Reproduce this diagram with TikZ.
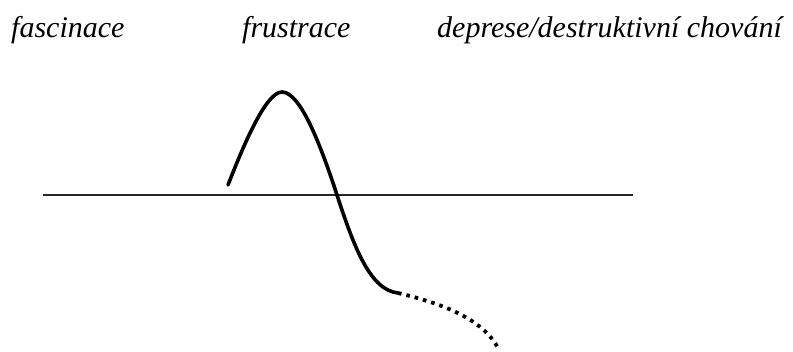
\documentclass[tikz,border=0pt]{standalone}
\usepackage{fontspec}
\setmainfont{Liberation Serif}
\tikzset{
  lbl/.style={anchor=base west, inner sep=0pt, font=\fontsize{30}{32}\selectfont\itshape},
  axis/.style={line width=1.8pt, color=black!85},
  wave/.style={line width=3.6pt, line cap=round},
  tail/.style={line width=3.8pt, dash pattern=on 3.6pt off 5pt}
}
\begin{document}
\begin{tikzpicture}[x=1pt,y=-1pt]
\useasboundingbox (0,0) rectangle (793,351);
\node[lbl] (t1) at (11,37) {fascinace};
\node[lbl] (t2) at (242,37) {frustrace};
\node[lbl] (t3) at (437,37) {deprese/destruktivní chování};
\coordinate (l1) at (43,195);
\coordinate (l2) at (633,195);
\draw[axis] (l1) -- (l2);
\coordinate (s) at (228,185);
\coordinate (p) at (282,92);
\coordinate (c) at (337,195);
\coordinate (e) at (398,293);
\coordinate (f) at (498,348);
\draw[wave] (s) .. controls (244,144) and (266,92) .. (p)
  .. controls (300,92) and (320,143) .. (c)
  .. controls (354,247) and (370,290) .. (e);
\draw[tail] (e) .. controls (440,303) and (482,318) .. (f);
\end{tikzpicture}
\end{document}
